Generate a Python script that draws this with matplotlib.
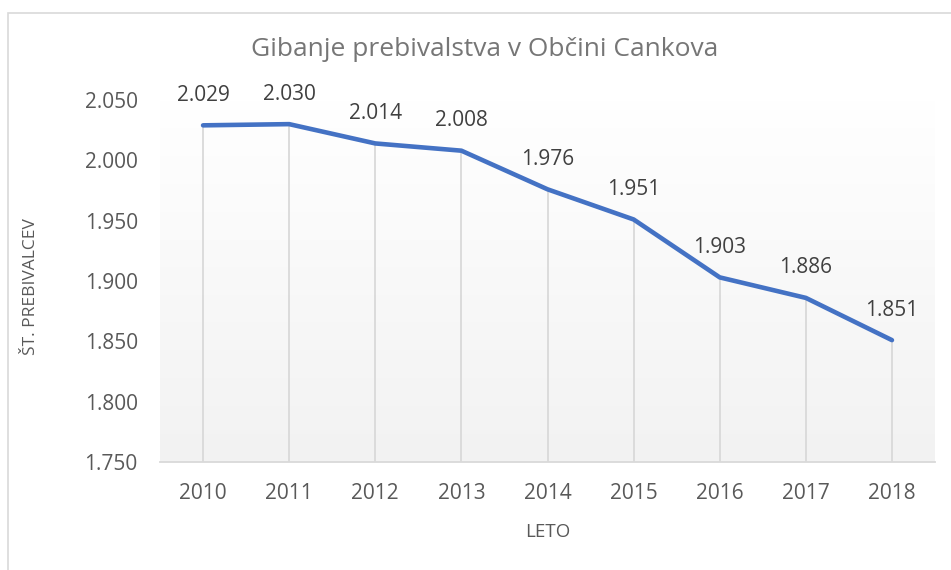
import numpy as np
import matplotlib.pyplot as plt
from matplotlib.patches import Rectangle
from matplotlib.colors import LinearSegmentedColormap
from matplotlib.ticker import FuncFormatter

plt.rcParams['font.family'] = ['Open Sans', 'DejaVu Sans']

years = ['2010', '2011', '2012', '2013', '2014', '2015', '2016', '2017', '2018']
population = [2029, 2030, 2014, 2008, 1976, 1951, 1903, 1886, 1851]
y_ticks = [1750, 1800, 1850, 1900, 1950, 2000, 2050]


def dotted(v, pos=None):
    return f'{int(v):,}'.replace(',', '.')


fig = plt.figure(figsize=(9.51, 5.70), dpi=100)
# outer chart frame
fig.patches.append(Rectangle((8 / 951, -0.1), 1.2, 1 - 13 / 570 + 0.1,
                             transform=fig.transFigure, fill=False,
                             edgecolor='#d9d9d9', linewidth=1.2))

ax = fig.add_axes([160 / 951, 1 - 462 / 570, 775 / 951, 362 / 570])
x = np.arange(len(years))
ax.set_xlim(-0.5, len(years) - 0.5)
ax.set_ylim(1750, 2050)

# gradient background of plot area (white top -> light grey bottom)
cmap = LinearSegmentedColormap.from_list('g', ['#f2f2f2', '#ffffff'])
ax.imshow(np.linspace(1, 0, 256).reshape(-1, 1), aspect='auto', cmap=cmap,
          extent=(-0.5, len(years) - 0.5, 1750, 2050), origin='upper',
          zorder=0, vmin=0, vmax=1)

# drop lines
ax.vlines(x, 1750, population, color='#d9d9d9', linewidth=1.3, zorder=1)
ax.plot(x, population, color='#4472c4', linewidth=3.3, solid_capstyle='round', zorder=3)

for xi, v in zip(x, population):
    ax.annotate(dotted(v), (xi, v), xytext=(0, 14), textcoords='offset points',
                ha='center', va='bottom', fontsize=15, color='#404040')

for s in ['top', 'right', 'left']:
    ax.spines[s].set_visible(False)
ax.spines['bottom'].set_color('#d9d9d9')
ax.spines['bottom'].set_linewidth(1.3)

ax.set_xticks(x)
ax.set_xticklabels(years)
ax.set_yticks(y_ticks)
ax.yaxis.set_major_formatter(FuncFormatter(dotted))
ax.tick_params(axis='both', length=0, labelsize=15, labelcolor='#595959')
ax.tick_params(axis='y', pad=16)
ax.tick_params(axis='x', pad=15)

fig.text(485 / 951, 1 - 50 / 570, 'Gibanje prebivalstva v Občini Cankova',
         ha='center', va='center', fontsize=19, color='#767676')
fig.text(548 / 951, 1 - 532 / 570, 'LETO', ha='center', va='center',
         fontsize=13.5, color='#595959')
fig.text(31 / 951, 1 - 287 / 570, 'ŠT. PREBIVALCEV', ha='center', va='center',
         rotation=90, fontsize=12.5, color='#595959')

fig.savefig('out.png', dpi=100)
